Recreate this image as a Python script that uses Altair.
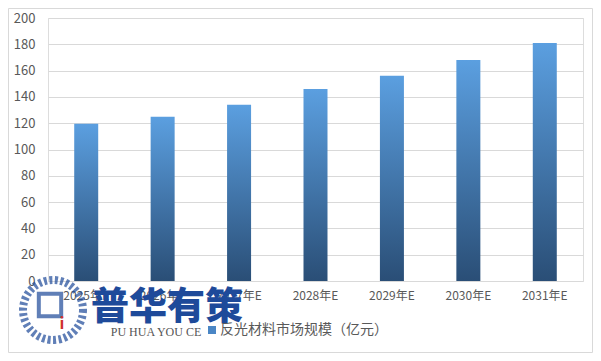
import altair as alt
import pandas as pd

years = ["2025年E", "2026年E", "2027年E", "2028年E", "2029年E", "2030年E", "2031年E"]
values = [119.5, 125, 134, 146, 156, 168, 181]
y_ticks = [0, 20, 40, 60, 80, 100, 120, 140, 160, 180, 200]
legend_label = "反光材料市场规模（亿元）"
logo_cn = "普华有策"
logo_en = "PU HUA YOU CE"

df = pd.DataFrame({"year": years, "value": values})
FONT = "Microsoft YaHei, Noto Sans CJK SC, sans-serif"

W, H = 535, 263

grad = alt.Gradient(
    gradient="linear",
    stops=[alt.GradientStop(color="#2A4E76", offset=0),
           alt.GradientStop(color="#5B9FE0", offset=1)],
    x1=0, x2=0, y1=1, y2=0,
)

bars = alt.Chart(df).mark_bar(color=grad).encode(
    x=alt.X("year:N", sort=years, title=None,
            scale=alt.Scale(paddingInner=0.686, paddingOuter=0.343),
            axis=alt.Axis(labelAngle=0, domain=False, ticks=False, grid=False,
                          labelPadding=9, labelFontSize=12, labelColor="#595959",
                          labelFont=FONT)),
    y=alt.Y("value:Q", title=None,
            scale=alt.Scale(domain=[0, 200], nice=False),
            axis=alt.Axis(values=y_ticks, domain=False, ticks=False, grid=True,
                          gridColor="#D9D9D9", gridWidth=1, labelPadding=13,
                          labelFontSize=13, labelColor="#595959", labelFont=FONT)),
)

one = pd.DataFrame({"k": [0]})

border = alt.Chart(one).mark_rect(fill=None, stroke="#D9D9D9", strokeWidth=1).encode(
    x=alt.value(-39.5), x2=alt.value(544.5), y=alt.value(-9.5), y2=alt.value(334.5)
)

logo_circle = alt.Chart(one).mark_point(
    shape="circle", size=3600, filled=False, stroke="#1E4A9A", strokeWidth=8,
    strokeDash=[3, 2.5]
).encode(x=alt.value(5), y=alt.value(292))

logo_inner = alt.Chart(one).mark_point(
    shape="square", size=500, filled=False, stroke="#1E4A9A", strokeWidth=4
).encode(x=alt.value(2), y=alt.value(287))

logo_i = alt.Chart(pd.DataFrame({"t": ["i"]})).mark_text(
    font=FONT, fontSize=16, fontWeight="bold", color="#D0312D"
).encode(x=alt.value(14), y=alt.value(306), text="t:N")

logo_text = alt.Chart(pd.DataFrame({"t": [logo_cn]})).mark_text(
    font=FONT, fontSize=38, fontWeight=900, color="#1E4A9A", baseline="middle"
).encode(x=alt.value(119), y=alt.value(290), text="t:N")

logo_en_text = alt.Chart(pd.DataFrame({"t": [logo_en]})).mark_text(
    font="Liberation Serif, serif", fontSize=12, color="#555555", baseline="middle"
).encode(x=alt.value(108), y=alt.value(314), text="t:N")

legend_sq = alt.Chart(one).mark_square(size=64, color="#4A86C5", opacity=1).encode(
    x=alt.value(164), y=alt.value(312)
)

legend_txt = alt.Chart(pd.DataFrame({"t": [legend_label]})).mark_text(
    font=FONT, fontSize=14, color="#595959", align="left", baseline="middle"
).encode(x=alt.value(172), y=alt.value(312), text="t:N")

chart = alt.layer(
    border, bars, logo_circle, logo_inner, logo_i, logo_text, logo_en_text,
    legend_sq, legend_txt
).properties(
    width=W, height=H,
    autosize=alt.AutoSizeParams(type="none"),
    padding={"left": 40, "top": 10, "right": 10, "bottom": 72},
).configure_view(stroke=None).configure(background="white")

chart.save("out.html", embed_options={"renderer": "svg", "actions": False})
